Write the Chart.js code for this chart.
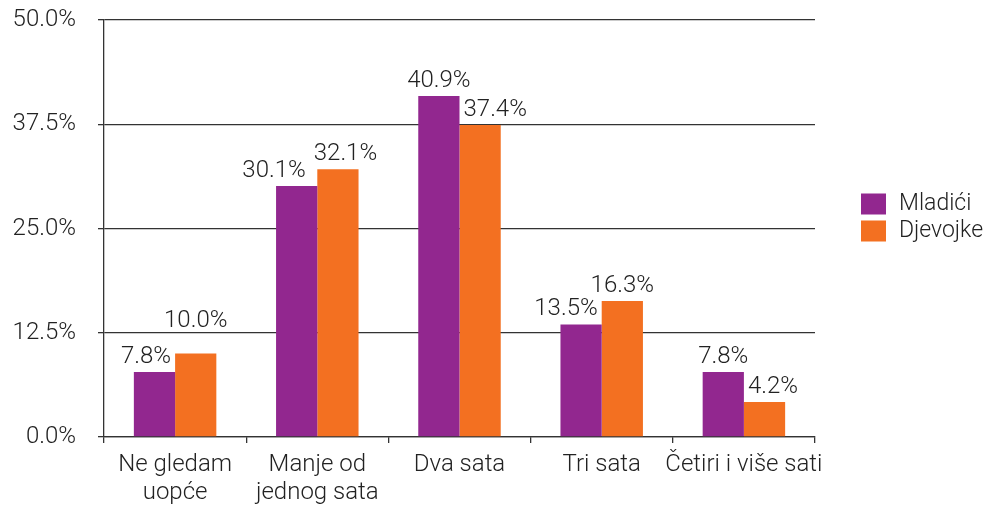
<!DOCTYPE html>
<html>
<head>
<meta charset="utf-8">
<script src="https://cdn.jsdelivr.net/npm/chart.js@4"></script>
<style>
	html, body { margin: 0; padding: 0; background: #fff; }
	#wrap { width: 984px; height: 510px; position: relative; }
</style>
</head>
<body>
<div id="wrap"><canvas id="grafikon"></canvas></div>
<script>
const kategorije = [['Ne gledam', 'uopće'], ['Manje od', 'jednog sata'], 'Dva sata', 'Tri sata', 'Četiri i više sati'];
const mladici = [7.8, 30.1, 40.9, 13.5, 7.8];
const djevojke = [10.0, 32.1, 37.4, 16.3, 4.2];
const yTicks = [0, 12.5, 25, 37.5, 50];

const FONT = 'Roboto, "Liberation Sans", sans-serif';
const TEKST = '#222';

// oznake vrijednosti iznad stupaca, pomaknute da ne prekrivaju susjedni stupac
const oznakePlugin = {
	id: 'oznake',
	afterDatasetsDraw(chart) {
		const ctx = chart.ctx;
		ctx.save();
		ctx.font = '300 24px ' + FONT;
		ctx.fillStyle = TEKST;
		ctx.textAlign = 'center';
		ctx.textBaseline = 'alphabetic';
		const visina = 18, razmak = 9, margina = 4;
		const m0 = chart.getDatasetMeta(0).data;
		const m1 = chart.getDatasetMeta(1).data;
		m0.forEach(function (b0, j) {
			const b1 = m1[j];
			const t0 = chart.data.datasets[0].data[j].toFixed(1) + '%';
			const t1 = chart.data.datasets[1].data[j].toFixed(1) + '%';
			const w0 = ctx.measureText(t0).width, w1 = ctx.measureText(t1).width;
			let x0 = b0.x, x1 = b1.x;
			let y0 = b0.y - razmak, y1 = b1.y - razmak;
			// lijeva oznaka preko desnog stupca?
			if (y0 > b1.y) {
				const desno = x0 + w0 / 2;
				const granica = b1.x - b1.width / 2 - margina;
				if (desno > granica) x0 -= desno - granica;
			}
			// desna oznaka preko lijevog stupca?
			if (y1 > b0.y) {
				const lijevo = x1 - w1 / 2;
				const granica = b0.x + b0.width / 2 + margina;
				if (lijevo < granica) x1 += granica - lijevo;
			}
			// oznake se preklapaju međusobno?
			const preklop = (x0 + w0 / 2) - (x1 - w1 / 2) + 8;
			const dy = Math.abs(y0 - y1);
			if (preklop > 0 && dy < visina) {
				x0 -= preklop / 2; x1 += preklop / 2;
			} else if (preklop > 0 && dy < visina + 4) {
				// gotovo se dodiruju: višu oznaku podigni
				if (y0 < y1) y0 -= visina; else y1 -= visina;
			}
			ctx.fillText(t0, x0, y0);
			ctx.fillText(t1, x1, y1);
		});
		ctx.restore();
	}
};

// legenda desno od grafikona
const legendaPlugin = {
	id: 'legenda',
	afterDraw(chart) {
		const ctx = chart.ctx;
		const a = chart.chartArea;
		const x = a.right + 46;
		let y = (a.top + a.bottom) / 2 - 35;
		ctx.save();
		ctx.font = '300 23px ' + FONT;
		ctx.textBaseline = 'middle';
		ctx.textAlign = 'left';
		chart.data.datasets.forEach(function (ds) {
			ctx.fillStyle = ds.backgroundColor;
			ctx.fillRect(x, y, 25, 21);
			ctx.fillStyle = TEKST;
			ctx.fillText(ds.label, x + 38, y + 11);
			y += 27;
		});
		ctx.restore();
	}
};

window.onload = function () {
	const contexto = document.getElementById('grafikon').getContext('2d');
	new Chart(contexto, {
		type: 'bar',
		data: {
			labels: kategorije,
			datasets: [
				{ label: 'Mladići', data: mladici, backgroundColor: '#92278F' },
				{ label: 'Djevojke', data: djevojke, backgroundColor: '#F37021' }
			]
		},
		options: {
			responsive: true,
			maintainAspectRatio: false,
			animation: false,
			layout: { padding: { top: 0, left: 8, right: 169, bottom: 0 } },
			datasets: { bar: { categoryPercentage: 0.58, barPercentage: 1.0 } },
			plugins: {
				tooltip: { enabled: false },
				legend: { display: false }
			},
			scales: {
				x: {
					afterFit(axis) { axis.height = 73; },
					grid: { drawOnChartArea: false, color: '#333', tickLength: 6, lineWidth: 1.3 },
					border: { color: '#333', width: 1.3 },
					ticks: { color: TEKST, padding: 8, font: { family: FONT, size: 24, weight: '300', lineHeight: 1.17 }, maxRotation: 0, autoSkip: false }
				},
				y: {
					min: 0,
					max: 50,
					afterFit(axis) {
						axis.width = 96;
						axis.paddingTop = 20;
						axis.paddingBottom = 0;
					},
					afterBuildTicks(axis) { axis.ticks = yTicks.map(v => ({ value: v })); },
					grid: { color: '#333', tickLength: 6, lineWidth: 1.3 },
					border: { color: '#333', width: 1.3 },
					ticks: {
						color: TEKST,
						padding: 22,
						font: { family: FONT, size: 24, weight: '300' },
						callback: v => v.toFixed(1) + '%'
					}
				}
			}
		},
		plugins: [oznakePlugin, legendaPlugin]
	});
};
</script>
</body>
</html>
